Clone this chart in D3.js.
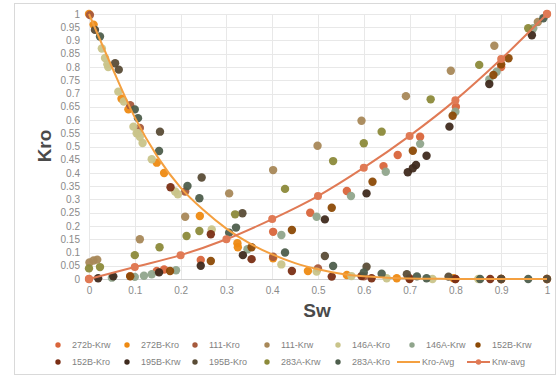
<!DOCTYPE html>
<html><head><meta charset="utf-8">
<script src="https://cdn.jsdelivr.net/npm/d3@7"></script>
<style>body{margin:0;background:#fff}svg{display:block;font-family:"Liberation Sans",Arial,sans-serif}</style>
</head><body><svg id="c" width="558" height="376"></svg>
<script>
const xTicks = [0,0.1,0.2,0.3,0.4,0.5,0.6,0.7,0.8,0.9,1];
const yTicks = [0,0.05,0.1,0.15,0.2,0.25,0.3,0.35,0.4,0.45,0.5,0.55,0.6,0.65,0.7,0.75,0.8,0.85,0.9,0.95,1];
const seriesNames = ["272b-Krw","272B-Kro","111-Kro","111-Krw","146A-Kro","146A-Krw","152B-Krw","152B-Kro","195B-Krw","195B-Kro","283A-Krw","283A-Kro"];
const seriesColors = ["#D9653B","#EE8A12","#A65A3C","#A88858","#C9C48A","#90A58C","#8C4A06","#7A2E14","#3F2A1E","#5A4C36","#8C8A3A","#4E5E4C"];
const s272bKrw = [[0,0],[0.09,0.011],[0.148,0.03],[0.164,0.036],[0.244,0.072],[0.402,0.178],[0.483,0.25],[0.563,0.332],[0.643,0.426],[0.674,0.468],[0.723,0.537],[0.801,0.65],[0.9,0.8],[1,1]];
const s272BKro = [[0,1],[0.01,0.96],[0.071,0.68],[0.086,0.64],[0.148,0.439],[0.164,0.40],[0.242,0.238],[0.324,0.135],[0.325,0.12],[0.402,0.078],[0.478,0.03],[0.563,0.015],[0.672,0.003],[0.796,0.003],[0.9,0],[1,0]];
const s111Kro = [[0.002,0.996],[0.09,0.656],[0.111,0.57],[0.21,0.33],[0.402,0.084],[0.5,0.04],[0.6,0.01],[0.7,0.003],[0.8,0],[0.9,0],[1,0]];
const s111Krw = [[0.001,0.062],[0.01,0.07],[0.018,0.073],[0.111,0.15],[0.21,0.235],[0.306,0.323],[0.402,0.411],[0.499,0.503],[0.595,0.597],[0.692,0.69],[0.79,0.786],[0.885,0.88],[0.98,0.97]];
const s146AKro = [[0.028,0.87],[0.035,0.834],[0.04,0.81],[0.042,0.80],[0.064,0.707],[0.076,0.67],[0.097,0.575],[0.104,0.55],[0.107,0.55],[0.111,0.537],[0.117,0.513],[0.137,0.452],[0.188,0.33],[0.194,0.32],[0.268,0.187],[0.42,0.055],[0.497,0.028],[0.573,0.011],[0.65,0.003],[0.75,0],[0.85,0]];
const s146AKrw = [[0.05,0.005],[0.1,0.008],[0.12,0.012],[0.137,0.018],[0.19,0.033],[0.346,0.112],[0.42,0.166],[0.497,0.235],[0.572,0.313],[0.648,0.405],[0.723,0.51],[0.8,0.631],[0.874,0.753],[0.89,0.782],[0.97,0.946]];
const s152BKrw = [[0.09,0.01],[0.177,0.03],[0.266,0.068],[0.355,0.12],[0.443,0.185],[0.53,0.269],[0.619,0.367],[0.707,0.484],[0.794,0.616],[0.883,0.77],[0.9,0.81],[0.916,0.833]];
const s152BKro = [[0.178,0.346],[0.266,0.169],[0.355,0.075],[0.443,0.03],[0.53,0.009],[0.595,0.011],[0.617,0.003],[0.7,0],[0.8,0],[0.876,0],[0.9,0]];
const s195BKrw = [[0.02,0.003],[0.053,0.01],[0.153,0.025],[0.244,0.05],[0.336,0.09],[0.515,0.225],[0.606,0.323],[0.696,0.403],[0.707,0.418],[0.714,0.43],[0.737,0.465],[0.787,0.575],[0.874,0.736],[0.967,0.92]];
const s195BKro = [[0.013,0.94],[0.057,0.814],[0.065,0.79],[0.155,0.556],[0.246,0.383],[0.335,0.248],[0.515,0.087],[0.606,0.046],[0.694,0.018],[0.785,0.009],[0.9,0],[1,0]];
const s283AKrw = [[0,0.04],[0.024,0.045],[0.1,0.09],[0.154,0.12],[0.213,0.162],[0.241,0.181],[0.319,0.244],[0.428,0.34],[0.533,0.445],[0.6,0.512],[0.639,0.556],[0.746,0.678],[0.852,0.808],[0.959,0.946]];
const s283AKro = [[0.024,0.915],[0.1,0.64],[0.107,0.607],[0.153,0.483],[0.215,0.351],[0.241,0.305],[0.306,0.175],[0.321,0.194],[0.428,0.1],[0.533,0.049],[0.6,0.025],[0.639,0.02],[0.716,0.01],[0.737,0.003],[0.854,0],[0.959,0],[0.992,0.984]];
const kroAvg = [[0,1],[0.05,0.80],[0.1,0.61],[0.15,0.46],[0.2,0.345],[0.25,0.26],[0.3,0.19],[0.35,0.135],[0.4,0.093],[0.45,0.06],[0.5,0.037],[0.55,0.02],[0.6,0.01],[0.65,0.005],[0.7,0.002],[0.75,0.001],[0.8,0],[0.9,0],[1,0]];
const krwAvg = [[0,0],[0.1,0.045],[0.2,0.09],[0.3,0.15],[0.4,0.226],[0.5,0.313],[0.6,0.42],[0.7,0.54],[0.8,0.675],[0.9,0.83],[1,1]];
const seriesData = [s272bKrw,s272BKro,s111Kro,s111Krw,s146AKro,s146AKrw,s152BKrw,s152BKro,s195BKrw,s195BKro,s283AKrw,s283AKro];

const svg = d3.select("#c");
const x = d3.scaleLinear().domain([0,1]).range([89,547]);
const y = d3.scaleLinear().domain([0,1]).range([279,14]);

svg.append("rect").attr("x",14.5).attr("y",3.5).attr("width",541).attr("height",371)
  .attr("fill","#fff").attr("stroke","#d9d9d9");

// grid
svg.append("g").selectAll("line").data(yTicks).join("line")
  .attr("x1",x(0)).attr("x2",x(1)).attr("y1",d=>Math.round(y(d))+0.5).attr("y2",d=>Math.round(y(d))+0.5)
  .attr("stroke",d=>d===0?"#d0d0d0":"#e8e8e8");
svg.append("g").selectAll("line").data(xTicks).join("line")
  .attr("y1",y(0)).attr("y2",y(1)).attr("x1",d=>Math.round(x(d))+0.5).attr("x2",d=>Math.round(x(d))+0.5)
  .attr("stroke","#e8e8e8");

// axes labels via d3 axes
const ax = svg.append("g").attr("transform",`translate(0,${y(0)})`)
  .call(d3.axisBottom(x).tickValues(xTicks).tickSize(0).tickPadding(8).tickFormat(d3.format("~g")));
ax.select(".domain").remove();
ax.selectAll("text").attr("fill","#8a8a8a").attr("font-size",10).attr("font-family","Liberation Sans, Arial, sans-serif");
const ay = svg.append("g").attr("transform",`translate(${x(0)},0)`)
  .call(d3.axisLeft(y).tickValues(yTicks).tickSize(0).tickPadding(9).tickFormat(d3.format("~g")));
ay.select(".domain").remove();
ay.selectAll("text").attr("fill","#8a8a8a").attr("font-size",10).attr("font-family","Liberation Sans, Arial, sans-serif");

// titles
svg.append("text").attr("x",317).attr("y",317).attr("text-anchor","middle")
  .attr("font-size",19).attr("font-weight","bold").attr("fill","#4a4a4a").text("Sw");
svg.append("text").attr("transform",`translate(51,146) rotate(-90)`).attr("text-anchor","middle")
  .attr("font-size",19).attr("font-weight","bold").attr("fill","#4a4a4a").text("Kro");

// scatter
seriesData.forEach((data,i)=>{
  svg.append("g").selectAll("circle").data(data).join("circle")
    .attr("cx",d=>x(d[0])).attr("cy",d=>y(d[1])).attr("r",4.2)
    .attr("fill",seriesColors[i]).attr("opacity",0.95);
});

// avg lines
const line = d3.line().x(d=>x(d[0])).y(d=>y(d[1])).curve(d3.curveMonotoneX);
svg.append("path").attr("d",line(kroAvg)).attr("fill","none").attr("stroke","#F4A040").attr("stroke-width",2);
svg.append("path").attr("d",line(krwAvg)).attr("fill","none").attr("stroke","#E07A55").attr("stroke-width",2);
svg.append("g").selectAll("circle").data(krwAvg).join("circle")
  .attr("cx",d=>x(d[0])).attr("cy",d=>y(d[1])).attr("r",4).attr("fill","#E07A55");

// legend
const legendRows = [
  {y:345, items:[0,1,2,3,4,5,6], xs:[58,127,195,267,338,412,478]},
  {y:362, items:[7,8,9,10,11], xs:[58,127,195,267,338]}
];
const lg = svg.append("g").attr("font-size",9).attr("fill","#7f7f7f");
legendRows.forEach(r=>{
  r.items.forEach((si,k)=>{
    lg.append("circle").attr("cx",r.xs[k]).attr("cy",r.y).attr("r",2.7).attr("fill",seriesColors[si]);
    lg.append("text").attr("x",r.xs[k]+14).attr("y",r.y+3.2).text(seriesNames[si]);
  });
});
lg.append("line").attr("x1",397).attr("x2",420).attr("y1",362).attr("y2",362).attr("stroke","#F4A040").attr("stroke-width",2);
lg.append("text").attr("x",422).attr("y",365.2).text("Kro-Avg");
lg.append("line").attr("x1",467).attr("x2",490).attr("y1",362).attr("y2",362).attr("stroke","#E07A55").attr("stroke-width",2);
lg.append("circle").attr("cx",478.5).attr("cy",362).attr("r",2.7).attr("fill","#E07A55");
lg.append("text").attr("x",492).attr("y",365.2).text("Krw-avg");
</script></body></html>
